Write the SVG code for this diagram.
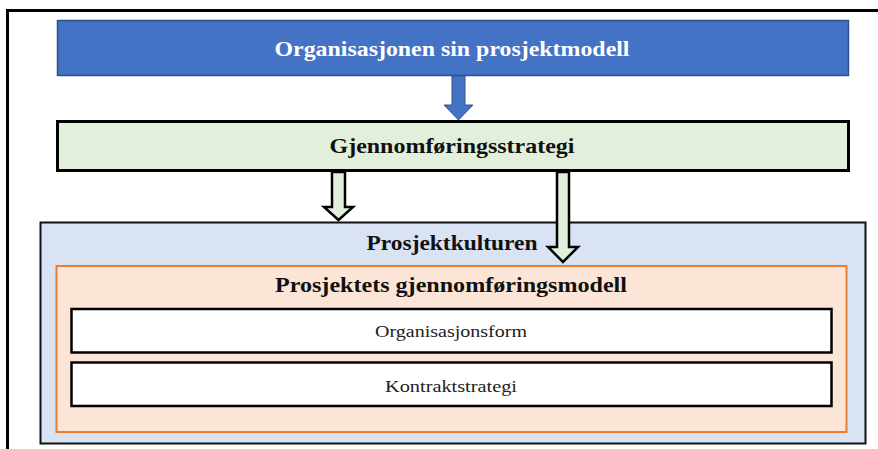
<svg xmlns="http://www.w3.org/2000/svg" width="878" height="449" viewBox="0 0 878 449">
  <style>
    text { font-family: "Liberation Serif", "Times New Roman", "DejaVu Serif", serif; text-anchor: middle; }
    .b { font-weight: bold; font-size: 21px; fill: #111; }
    .r { font-size: 16px; fill: #222; }
    .w { fill: #ffffff; }
    .garrow { fill: #E2EFDA; stroke: #000; stroke-width: 2.5; stroke-linejoin: miter; }
  </style>

  <!-- page frame -->
  <g id="frame">
    <path d="M7.5,449 V10.5 H878" fill="none" stroke="#000" stroke-width="3"/>
  </g>

  <!-- top box: organisation model -->
  <g id="org-model">
    <rect x="57.5" y="20.5" width="791" height="55" fill="#4472C4" stroke="#2F528F" stroke-width="1.5"/>
    <text class="b w" x="452" y="56" font-family="Liberation Serif, serif" textLength="355" lengthAdjust="spacingAndGlyphs">Organisasjonen sin prosjektmodell</text>
  </g>

  <!-- execution strategy -->
  <g id="strategy">
    <rect x="57.5" y="121.5" width="791" height="49" fill="#E2EFDA" stroke="#000" stroke-width="3"/>
    <text class="b" x="452" y="153" font-family="Liberation Serif, serif" textLength="245" lengthAdjust="spacingAndGlyphs">Gjennomføringsstrategi</text>
  </g>

  <!-- project culture container -->
  <g id="culture">
    <rect x="40.5" y="222.5" width="825" height="221" fill="#DAE3F3" stroke="#111" stroke-width="2"/>
    <text class="b" x="452" y="250" font-family="Liberation Serif, serif" textLength="171" lengthAdjust="spacingAndGlyphs">Prosjektkulturen</text>
  </g>

  <!-- project execution model -->
  <g id="execution-model">
    <rect x="56.5" y="266" width="790" height="166" fill="#FBE5D6" stroke="#ED7D31" stroke-width="2"/>
    <text class="b" x="451" y="292" font-family="Liberation Serif, serif" textLength="352" lengthAdjust="spacingAndGlyphs">Prosjektets gjennomføringsmodell</text>
  </g>

  <g id="org-form">
    <rect x="71.5" y="309" width="760" height="43.5" fill="#fff" stroke="#000" stroke-width="2.5"/>
    <text class="r" x="451" y="337" font-family="Liberation Serif, serif" textLength="152" lengthAdjust="spacingAndGlyphs">Organisasjonsform</text>
  </g>

  <g id="contract">
    <rect x="71.5" y="362.5" width="760" height="43.5" fill="#fff" stroke="#000" stroke-width="2.5"/>
    <text class="r" x="451" y="392" font-family="Liberation Serif, serif" textLength="132" lengthAdjust="spacingAndGlyphs">Kontraktstrategi</text>
  </g>

  <!-- connectors -->
  <g id="connectors">
    <polygon points="452,76 465,76 465,105 473,105 458.5,120 444,105 452,105" fill="#4472C4" stroke="#2F528F" stroke-width="1"/>
    <polygon class="garrow" points="332,172 345,172 345,207 353,207 338.5,220 324,207 332,207"/>
    <polygon class="garrow" points="557,172 569,172 569,247 578,247 563,262 548,247 557,247"/>
  </g>
</svg>
